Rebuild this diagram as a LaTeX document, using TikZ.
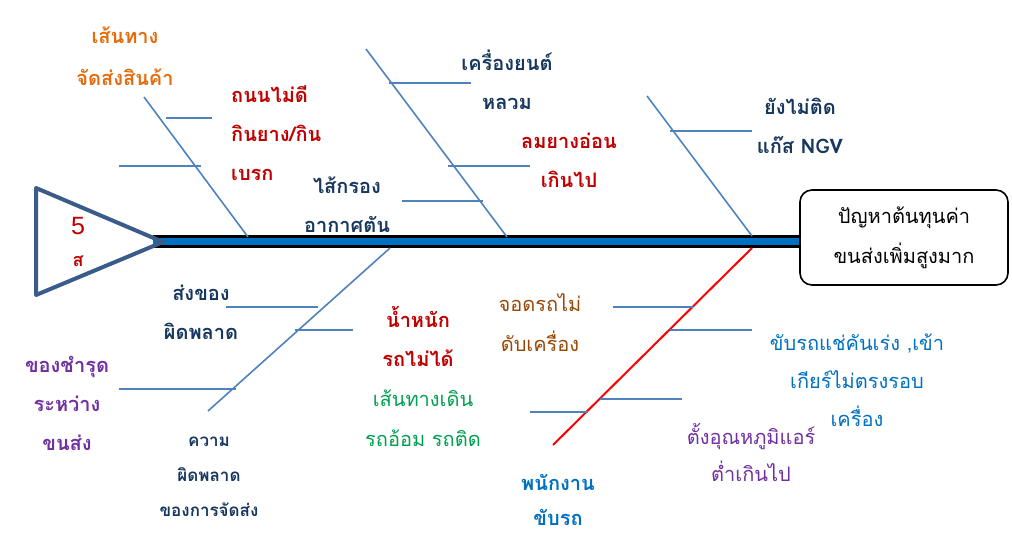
\documentclass[tikz,border=0pt]{standalone}
\usepackage{fontspec}
\newfontfamily\thaifont[Script=Thai]{Loma}
\newfontfamily\latinfont{Liberation Sans}
\definecolor{bonecol}{HTML}{4F81BD}
\definecolor{tricol}{HTML}{3B5B8A}
\definecolor{spinecol}{HTML}{0070C0}
\definecolor{navy}{HTML}{17375E}
\definecolor{darkred}{HTML}{C00000}
\definecolor{orangec}{HTML}{E46C0A}
\definecolor{purplec}{HTML}{7030A0}
\definecolor{greenc}{HTML}{00A050}
\definecolor{brownc}{HTML}{984806}
\definecolor{bluec}{HTML}{0070C0}

\begin{document}
\begin{tikzpicture}[
  x=1pt, y=-1pt,
  bone/.style={draw=bonecol,line width=1.6pt},
  redbone/.style={draw=red,line width=2pt},
  lbl/.style={align=center,inner sep=0pt,font=\thaifont\fontsize{20}{39}\selectfont},
  blbl/.style={lbl,font=\thaifont\bfseries\fontsize{20}{39}\selectfont},
  headbox/.style={draw,rounded corners=12pt,line width=1.6pt,minimum width=208pt,minimum height=95pt,align=center,font=\thaifont\fontsize{20}{40}\selectfont}
]
  \useasboundingbox (0,0) rectangle (1012,540);

  % fish head and tail
  \coordinate (ta) at (36,188);
  \coordinate (tb) at (36,295);
  \coordinate (tip) at (163,242);
  \node[headbox] (head) at (904,237.5) {ปัญหาต้นทุนค่า\\ขนส่งเพิ่มสูงมาก};
  \coordinate (sp) at (153,241.5);
  \draw[line width=13pt] (sp) -- (sp -| head.west);
  \draw[spinecol,line width=7pt] (sp) -- (sp -| head.west);
  \draw[tricol,line width=4pt,line join=round] (tip) -- (ta) -- (tb) -- cycle;
  \node[darkred,font=\latinfont\fontsize{25}{25}\selectfont] (five) at (78,226) {5};
  \node[darkred,font=\thaifont\bfseries\fontsize{18}{18}\selectfont] (so) at (78,261) {ส};

  % upper bones
  \coordinate (b1a) at (144,97);   \coordinate (b1b) at (248,237);
  \coordinate (b2a) at (366,49);   \coordinate (b2b) at (507,237);
  \coordinate (b3a) at (647,96);   \coordinate (b3b) at (752,236);
  \draw[bone] (b1a) -- (b1b);
  \draw[bone] (b2a) -- (b2b);
  \draw[bone] (b3a) -- (b3b);
  \coordinate (s1a) at (166,118);  \coordinate (s1b) at (212,118);
  \coordinate (s1c) at (119,166);  \coordinate (s1d) at (201,166);
  \coordinate (s2a) at (389,83);   \coordinate (s2b) at (471,83);
  \coordinate (s2c) at (448,166);  \coordinate (s2d) at (530,166);
  \coordinate (s2e) at (402,201);  \coordinate (s2f) at (483,201);
  \coordinate (s3a) at (670,131);  \coordinate (s3b) at (752,131);
  \draw[bone] (s1a) -- (s1b);
  \draw[bone] (s1c) -- (s1d);
  \draw[bone] (s2a) -- (s2b);
  \draw[bone] (s2c) -- (s2d);
  \draw[bone] (s2e) -- (s2f);
  \draw[bone] (s3a) -- (s3b);

  % lower bones
  \coordinate (b4a) at (390,248);  \coordinate (b4b) at (208,411);
  \coordinate (b5a) at (752,248);  \coordinate (b5b) at (553,445);
  \draw[bone] (b4a) -- (b4b);
  \draw[redbone] (b5a) -- (b5b);
  \coordinate (s4a) at (226,307);  \coordinate (s4b) at (318,307);
  \coordinate (s4c) at (295,330);  \coordinate (s4d) at (353,330);
  \coordinate (s4e) at (119,389);  \coordinate (s4f) at (236,389);
  \coordinate (s5a) at (613,307);  \coordinate (s5b) at (693,307);
  \coordinate (s5c) at (670,330);  \coordinate (s5d) at (752,330);
  \coordinate (s5e) at (600,399);  \coordinate (s5f) at (682,399);
  \coordinate (s5g) at (530,412);  \coordinate (s5h) at (588,412);
  \draw[bone] (s4a) -- (s4b);
  \draw[bone] (s4c) -- (s4d);
  \draw[bone] (s4e) -- (s4f);
  \draw[bone] (s5a) -- (s5b);
  \draw[bone] (s5c) -- (s5d);
  \draw[bone] (s5e) -- (s5f);
  \draw[bone] (s5g) -- (s5h);

  % labels, top
  \node[blbl,orangec,font=\thaifont\bfseries\fontsize{20}{42}\selectfont] (route) at (125,56) {เส้นทาง\\จัดส่งสินค้า};
  \node[blbl,darkred,align=left,anchor=west] (road) at (231,133) {ถนนไม่ดี\\กินยาง/กิน\\เบรก};
  \node[blbl,navy] (filter) at (347,205) {ไส้กรอง\\อากาศตัน};
  \node[blbl,navy] (engine) at (507,80) {เครื่องยนต์\\หลวม};
  \node[blbl,darkred] (tyre) at (569,160) {ลมยางอ่อน\\เกินไป};
  \node[blbl,navy] (ngv) at (800,126) {ยังไม่ติด\\แก๊ส NGV};

  % labels, bottom
  \node[blbl,navy] (wrong) at (201,312) {ส่งของ\\ผิดพลาด};
  \node[blbl,purplec] (broken) at (67,403) {ของชำรุด\\ระหว่าง\\ขนส่ง};
  \node[blbl,navy,font=\thaifont\bfseries\fontsize{17}{35}\selectfont] (error) at (209,477) {ความ\\ผิดพลาด\\ของการจัดส่ง};
  \node[blbl,darkred] (weight) at (418,336) {น้ำหนัก\\รถไม่ได้};
  \node[lbl,greenc,font=\thaifont\fontsize{20}{40}\selectfont] (detour) at (423,418) {เส้นทางเดิน\\รถอ้อม รถติด};
  \node[lbl,brownc,font=\thaifont\fontsize{20}{40}\selectfont] (idle) at (540,323) {จอดรถไม่\\ดับเครื่อง};
  \node[lbl,bluec,font=\thaifont\bfseries\fontsize{20}{35}\selectfont] (driver) at (558,500) {พนักงาน\\ขับรถ};
  \node[lbl,bluec,font=\thaifont\fontsize{20}{38}\selectfont] (gear) at (857,380) {ขับรถแช่คันเร่ง ,เข้า\\เกียร์ไม่ตรงรอบ\\เครื่อง};
  \node[lbl,purplec,font=\thaifont\fontsize{20}{37}\selectfont] (air) at (751,452) {ตั้งอุณหภูมิแอร์\\ต่ำเกินไป};
\end{tikzpicture}
\end{document}
